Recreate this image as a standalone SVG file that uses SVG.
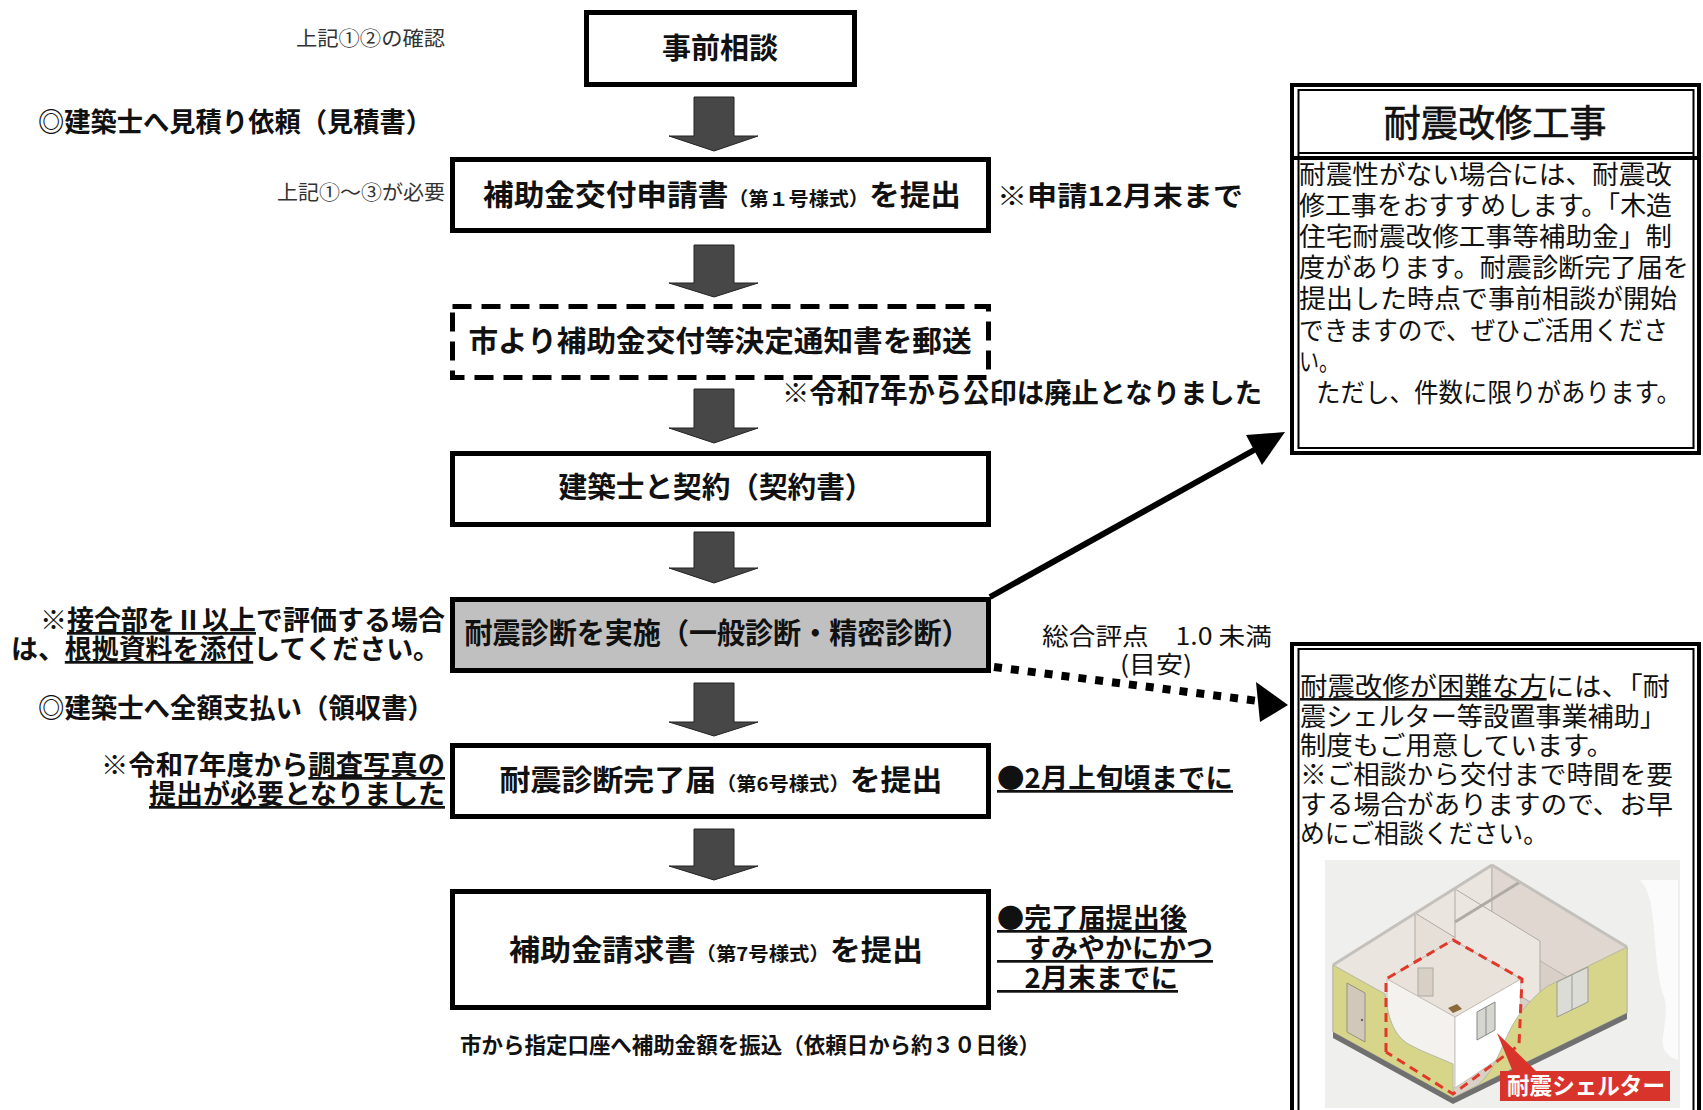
<svg xmlns="http://www.w3.org/2000/svg" width="1703" height="1110" viewBox="0 0 1703 1110">
<style>
text{font-family:"Noto Sans CJK JP","Noto Sans",sans-serif;fill:#111}
.b{font-weight:bold}
.box{fill:#fff;stroke:#000;stroke-width:5}
.bt{font-size:29px;font-weight:bold;text-anchor:middle}
.sm{font-size:19px}
.note{font-size:27px;font-weight:bold}
.tiny{font-size:20px;fill:#333}
.body{font-size:26px}
.u{text-decoration:underline}
.barrow{fill:#474747;stroke:#222;stroke-width:1}
.frame{fill:#fff;stroke:#000;stroke-width:4}
.thin{fill:none;stroke:#000;stroke-width:2}
</style>
<rect x="0" y="0" width="1703" height="1110" fill="#fff"/>

<g id="connectors">
  <path class="barrow" d="M694,97 H734 V136 H758 L714,151 L669,136 H694 Z"/>
  <path class="barrow" d="M694,245 H734 V283 H758 L714,297 L669,283 H694 Z"/>
  <path class="barrow" d="M694,389 H734 V428 H758 L714,443 L669,428 H694 Z"/>
  <path class="barrow" d="M694,532 H734 V568 H758 L714,583 L669,568 H694 Z"/>
  <path class="barrow" d="M694,683 H734 V722 H758 L714,736 L669,722 H694 Z"/>
  <path class="barrow" d="M694,829 H734 V866 H758 L714,880 L669,866 H694 Z"/>
  <line x1="990" y1="597" x2="1256" y2="449" stroke="#000" stroke-width="6"/>
  <polygon points="1285,432 1246,435 1262,465" fill="#000"/>
  <line x1="994" y1="667" x2="1258" y2="701" stroke="#000" stroke-width="8" stroke-dasharray="8 9"/>
  <polygon points="1288,705 1256,682 1260,722" fill="#000"/>
  <text x="1042" y="645" font-size="24" textLength="230" lengthAdjust="spacingAndGlyphs" fill="#222">総合評点　1.0 未満</text>
  <text x="1120" y="673" font-size="24" textLength="72" lengthAdjust="spacingAndGlyphs" fill="#222">(目安)</text>
</g>

<g id="label-check12">
  <text class="tiny" x="296" y="46" textLength="149" lengthAdjust="spacingAndGlyphs">上記①②の確認</text>
</g>
<g id="node-jizen">
  <rect class="box" x="586.5" y="12.5" width="268" height="72"/>
  <text class="bt" x="720" y="59" font-size="30">事前相談</text>
</g>
<g id="label-mitsumori">
  <text class="note" x="38" y="132" font-size="26" textLength="394" lengthAdjust="spacingAndGlyphs">◎建築士へ見積り依頼（見積書）</text>
</g>
<g id="label-check13">
  <text class="tiny" x="277" y="200" textLength="168" lengthAdjust="spacingAndGlyphs">上記①～③が必要</text>
</g>
<g id="node-shinsei">
  <rect class="box" x="452.5" y="159.5" width="536" height="71"/>
  <text class="bt" x="722" y="206" textLength="478" lengthAdjust="spacingAndGlyphs">補助金交付申請書<tspan class="sm">（第１号様式）</tspan>を提出</text>
  <text class="note" x="997" y="206" font-size="28" textLength="246" lengthAdjust="spacingAndGlyphs">※申請12月末まで</text>
</g>
<g id="node-kettei">
  <rect x="452.5" y="306.5" width="536" height="71" fill="#fff" stroke="#000" stroke-width="5" stroke-dasharray="19 10"/>
  <text class="bt" x="720" y="352" textLength="503" lengthAdjust="spacingAndGlyphs">市より補助金交付等決定通知書を郵送</text>
  <text class="note" x="782" y="403" textLength="480" lengthAdjust="spacingAndGlyphs">※令和7年から公印は廃止となりました</text>
</g>
<g id="node-keiyaku">
  <rect class="box" x="452.5" y="453.5" width="536" height="71"/>
  <text class="bt" x="716" y="498" textLength="315" lengthAdjust="spacingAndGlyphs">建築士と契約（契約書）</text>
</g>
<g id="node-shindan">
  <rect x="452.5" y="599.5" width="536" height="71" fill="#c0c0c0" stroke="#000" stroke-width="5"/>
  <text class="bt" x="717" y="644" textLength="505" lengthAdjust="spacingAndGlyphs">耐震診断を実施（一般診断・精密診断）</text>
  <text class="note" x="40" y="630" textLength="405" lengthAdjust="spacingAndGlyphs">※<tspan class="u">接合部をⅡ以上</tspan>で評価する場合</text>
  <text class="note" x="11" y="659" textLength="429" lengthAdjust="spacingAndGlyphs">は、<tspan class="u">根拠資料を添付</tspan>してください。</text>
</g>
<g id="label-shiharai">
  <text class="note" x="38" y="718" font-size="26" textLength="396" lengthAdjust="spacingAndGlyphs">◎建築士へ全額支払い（領収書）</text>
</g>
<g id="node-kanryo">
  <rect class="box" x="452.5" y="745.5" width="536" height="71"/>
  <text class="bt" x="721" y="791" textLength="443" lengthAdjust="spacingAndGlyphs">耐震診断完了届<tspan class="sm">（第6号様式）</tspan>を提出</text>
  <text class="note" x="101" y="775" textLength="344" lengthAdjust="spacingAndGlyphs">※令和7年度から<tspan class="u">調査写真の</tspan></text>
  <text class="note u" x="149" y="804" textLength="296" lengthAdjust="spacingAndGlyphs">提出が必要となりました</text>
  <text class="note u" x="997" y="788" textLength="236" lengthAdjust="spacingAndGlyphs">●2月上旬頃までに</text>
</g>
<g id="node-seikyu">
  <rect class="box" x="452.5" y="891.5" width="536" height="116"/>
  <text class="bt" x="716" y="961" textLength="414" lengthAdjust="spacingAndGlyphs">補助金請求書<tspan class="sm">（第7号様式）</tspan>を提出</text>
  <text class="note u" x="997" y="928" textLength="190" lengthAdjust="spacingAndGlyphs">●完了届提出後</text>
  <text class="note u" x="997" y="958" textLength="216" lengthAdjust="spacingAndGlyphs">　すみやかにかつ</text>
  <text class="note u" x="997" y="988" textLength="181" lengthAdjust="spacingAndGlyphs">　2月末までに</text>
  <text class="b" x="460" y="1053" font-size="22" textLength="580" lengthAdjust="spacingAndGlyphs">市から指定口座へ補助金額を振込（依頼日から約３０日後）</text>
</g>

<g id="node-kaishu">
  <rect class="frame" x="1292" y="85" width="407" height="368"/>
  <rect class="thin" x="1298.5" y="90" width="395" height="358"/>
  <line x1="1298" y1="153" x2="1694" y2="153" stroke="#000" stroke-width="2"/>
  <line x1="1290" y1="158" x2="1701" y2="158" stroke="#000" stroke-width="4"/>
  <text x="1495" y="137" font-size="37" text-anchor="middle" stroke="#111" stroke-width="0.7" textLength="223" lengthAdjust="spacingAndGlyphs">耐震改修工事</text>
  <text class="body" x="1299" y="184" textLength="373" lengthAdjust="spacingAndGlyphs">耐震性がない場合には、耐震改</text>
  <text class="body" x="1299" y="215" textLength="373" lengthAdjust="spacingAndGlyphs">修工事をおすすめします。「木造</text>
  <text class="body" x="1299" y="246" textLength="373" lengthAdjust="spacingAndGlyphs">住宅耐震改修工事等補助金」制</text>
  <text class="body" x="1299" y="277" textLength="390" lengthAdjust="spacingAndGlyphs">度があります。耐震診断完了届を</text>
  <text class="body" x="1299" y="308" textLength="378" lengthAdjust="spacingAndGlyphs">提出した時点で事前相談が開始</text>
  <text class="body" x="1299" y="340" textLength="369" lengthAdjust="spacingAndGlyphs">できますので、ぜひご活用くださ</text>
  <text class="body" x="1299" y="371" textLength="40" lengthAdjust="spacingAndGlyphs">い。</text>
  <text class="body" x="1316" y="402" textLength="365" lengthAdjust="spacingAndGlyphs">ただし、件数に限りがあります。</text>
</g>

<g id="node-shelter">
  <rect class="frame" x="1292" y="644" width="407" height="500"/>
  <rect class="thin" x="1298.5" y="649" width="395" height="490"/>
  <text class="body" x="1300" y="696" textLength="370" lengthAdjust="spacingAndGlyphs"><tspan class="u">耐震改修が困難な方</tspan>には、「耐</text>
  <text class="body" x="1300" y="726" textLength="366" lengthAdjust="spacingAndGlyphs">震シェルター等設置事業補助」</text>
  <text class="body" x="1300" y="755" textLength="313" lengthAdjust="spacingAndGlyphs">制度もご用意しています。</text>
  <text class="body" x="1300" y="784" textLength="373" lengthAdjust="spacingAndGlyphs">※ご相談から交付まで時間を要</text>
  <text class="body" x="1300" y="814" textLength="373" lengthAdjust="spacingAndGlyphs">する場合がありますので、お早</text>
  <text class="body" x="1300" y="843" textLength="248" lengthAdjust="spacingAndGlyphs">めにご相談ください。</text>
  <!-- illustration -->
  <rect x="1325" y="860" width="355" height="248" fill="#efefed"/>
  <path d="M1640,880 C1660,900 1650,960 1665,1000 C1670,1030 1650,1050 1678,1060 V880 Z" fill="#fbfbfb"/>
  <polygon points="1333,1032 1492,932 1627,1013 1453,1098" fill="#d8cfc6"/>
  <polygon points="1333,965 1492,865 1492,932 1333,1032" fill="#ebe5df" stroke="#b8b2ac" stroke-width="1"/>
  <polygon points="1492,865 1627,947 1627,1013 1492,932" fill="#e0d8d0" stroke="#b8b2ac" stroke-width="1"/>
  <polygon points="1415,913 1500,965 1500,1032 1415,980" fill="#e6dfd8" stroke="#b0aaa4" stroke-width="1"/>
  <polygon points="1455,889 1540,941 1540,1008 1455,956" fill="#ece6e0" stroke="#b0aaa4" stroke-width="1"/>
  <line x1="1520" y1="882" x2="1455" y2="922" stroke="#b0aaa4" stroke-width="3"/>
  <line x1="1333" y1="965" x2="1492" y2="865" stroke="#c4c0bc" stroke-width="3"/>
  <line x1="1492" y1="865" x2="1627" y2="947" stroke="#c4c0bc" stroke-width="3"/>
  <polygon points="1387,979 1453,940 1521,979 1455,1017" fill="#e9e2da" stroke="#c0b8b0" stroke-width="1"/>
  <rect x="1418" y="968" width="15" height="28" fill="#d8d0c4" stroke="#aaa" stroke-width="1"/>
  <polygon points="1387,979 1455,1017 1455,1088 1387,1050" fill="#f4f2ef" stroke="#c8c2bc" stroke-width="1"/>
  <polygon points="1455,1017 1521,979 1519,1045 1455,1088" fill="#ffffff" stroke="#c8c2bc" stroke-width="1"/>
  <polygon points="1448,1008 1457,1004 1462,1009 1453,1013" fill="#8a6a3a"/>
  <polygon points="1477,1012 1495,1002 1495,1030 1477,1040" fill="#d6d6d0" stroke="#888" stroke-width="1"/>
  <line x1="1486" y1="1007" x2="1486" y2="1035" stroke="#888" stroke-width="1"/>
  <path d="M1333,965 L1385,994 C1388,1015 1392,1035 1410,1045 C1425,1053 1440,1058 1453,1064 L1453,1098 L1333,1032 Z" fill="#d6d58a" stroke="#b8b7a0" stroke-width="1"/>
  <polygon points="1347,983 1365,993 1365,1042 1347,1032" fill="#d2c8ba" stroke="#9a9080" stroke-width="1"/>
  <circle cx="1362" cy="1020" r="1.2" fill="#666"/>
  <path d="M1453,1098 L1478,1085 C1495,1070 1500,1050 1510,1030 C1520,1010 1535,995 1548,986 L1627,947 L1627,1013 Z" fill="#d6d58a" stroke="#b8b7a0" stroke-width="1"/>
  <polygon points="1557,982 1588,967 1588,1002 1557,1017" fill="#dcdcd6" stroke="#999" stroke-width="1"/>
  <line x1="1572" y1="975" x2="1572" y2="1010" stroke="#999" stroke-width="1"/>
  <polygon points="1333,1032 1453,1098 1627,1013 1627,1019 1453,1104 1333,1038" fill="#707070"/>
  <polyline points="1386,1052 1386,979 1453,940 1522,979 1519,1045 1453,1094 1386,1052" fill="none" stroke="#e0392a" stroke-width="3" stroke-dasharray="9 6"/>
  <polygon points="1497,1033 1513,1072 1537,1072" fill="#d9342b"/>
  <rect x="1500" y="1071" width="170" height="30" fill="#d9342b"/>
  <text class="b" x="1507" y="1094" font-size="23" fill="#fff" style="fill:#fff" textLength="158" lengthAdjust="spacingAndGlyphs">耐震シェルター</text>
</g>
</svg>
